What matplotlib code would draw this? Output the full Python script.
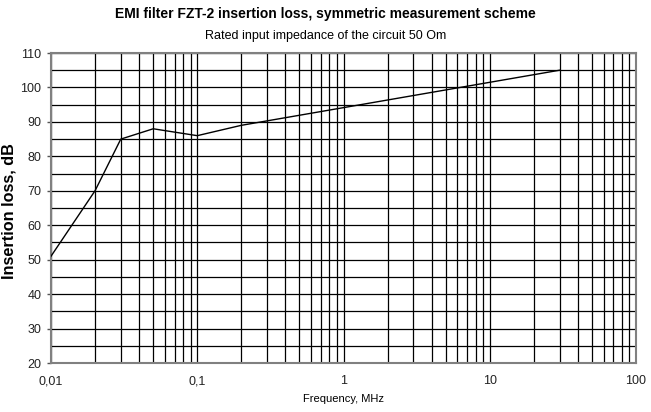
import matplotlib
matplotlib.use('Agg')
import matplotlib.pyplot as plt
from matplotlib.ticker import FixedLocator, LogLocator, NullFormatter

plt.rcParams['font.family'] = ['Liberation Sans', 'DejaVu Sans']

# data
freq_mhz = [0.01, 0.02, 0.03, 0.05, 0.1, 0.2, 30]
loss_db = [51, 70, 85, 88, 86, 89, 105]
x_tick_labels = ['0,01', '0,1', '1', '10', '100']
x_ticks = [0.01, 0.1, 1, 10, 100]

fig = plt.figure(figsize=(6.51, 4.12), dpi=100)
ax = fig.add_axes([51 / 651, 1 - 363 / 412, 585 / 651, 310 / 412])

ax.plot(freq_mhz, loss_db, color='black', linewidth=1, zorder=3)

ax.set_xscale('log')
ax.set_xlim(0.01, 100)
ax.set_ylim(20, 110)
ax.set_xticks(x_ticks)
ax.set_xticklabels(x_tick_labels, fontsize=9, color='#222222')
ax.xaxis.set_minor_locator(LogLocator(base=10, subs=range(2, 10)))
ax.xaxis.set_minor_formatter(NullFormatter())
ax.set_yticks(range(20, 111, 10))
ax.yaxis.set_minor_locator(FixedLocator(range(25, 110, 10)))
ax.tick_params(axis='y', labelsize=9, length=3, width=1, pad=4, color='#555555', labelcolor='#222222')
ax.tick_params(axis='x', which='major', length=0, pad=9)
ax.tick_params(which='minor', length=0)

ax.grid(True, which='both', color='black', linewidth=0.9)
for s in ax.spines.values():
    s.set_color('#808080')
    s.set_linewidth(1.5)

ax.set_xlabel('Frequency, MHz', fontsize=8, labelpad=5)
ax.set_ylabel('Insertion loss, dB', fontsize=11.7, fontweight='bold')
ax.yaxis.set_label_coords(-34 / 585, 0.49)

fig.text(0.5, 1 - 14 / 412, 'EMI filter FZT-2 insertion loss, symmetric measurement scheme',
         ha='center', va='center', fontsize=10, fontweight='bold')
fig.text(0.5, 1 - 36 / 412, 'Rated input impedance of the circuit 50 Om',
         ha='center', va='center', fontsize=9)

fig.savefig('out.png', dpi=100)
